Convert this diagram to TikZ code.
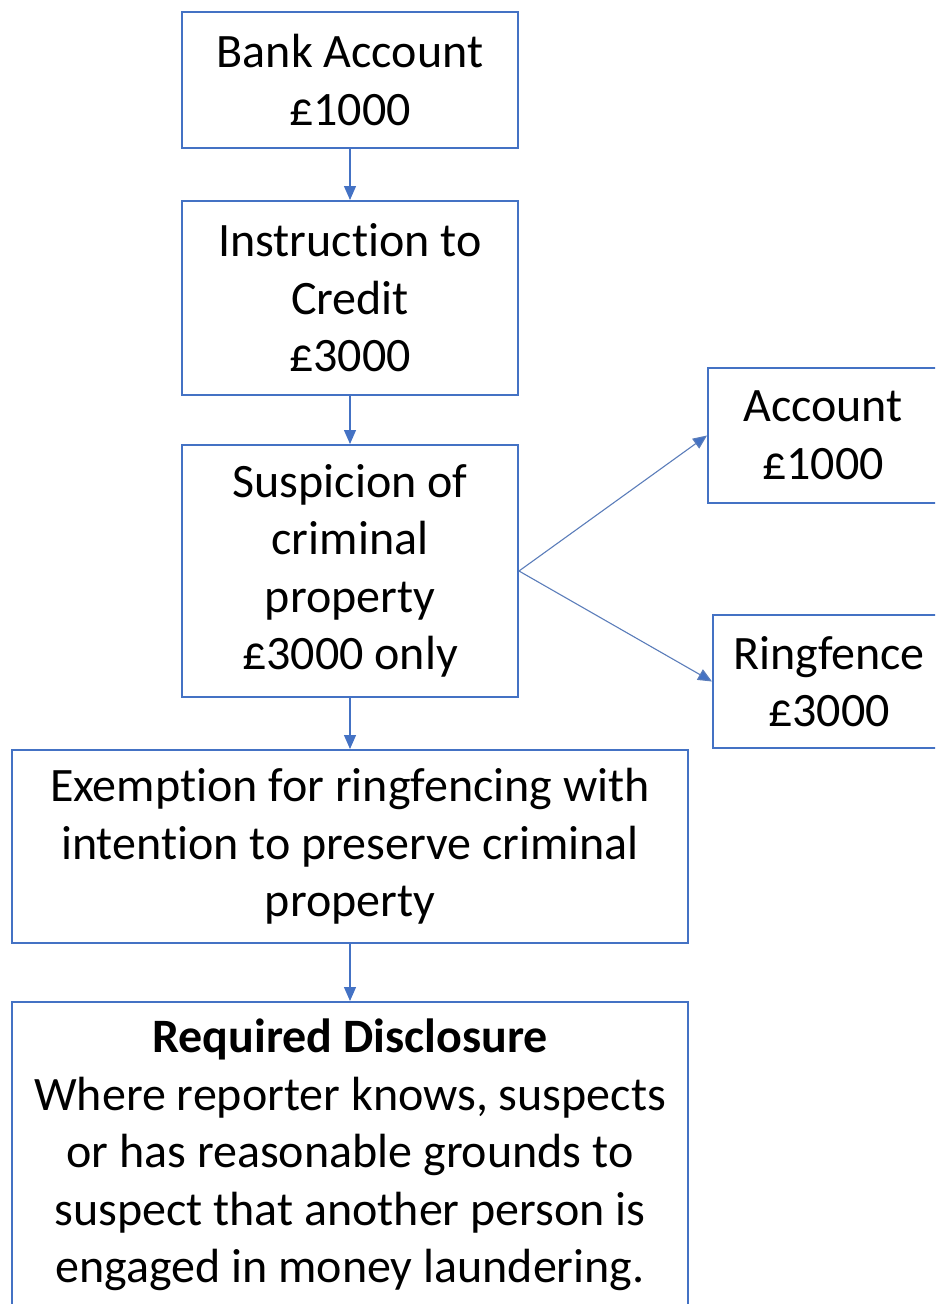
\documentclass[tikz,border=0pt]{standalone}
\usepackage{fontspec}
\setmainfont[Ligatures=NoCommon]{Carlito}
\usetikzlibrary{arrows.meta}
\definecolor{boxblue}{HTML}{4472C4}
\definecolor{linkblue}{HTML}{5B7DBA}
\begin{document}
\begin{tikzpicture}[x=1pt,y=-1pt,
  flowbox/.style={draw=boxblue, line width=2pt, fill=white, inner sep=0pt,
    align=center, font=\fontsize{48}{57.5}\selectfont, text=black},
  flowarrow/.style={draw=boxblue, line width=1.3pt,
    -{Triangle[length=14pt,width=12pt]}},
  branch/.style={draw=linkblue, line width=1.1pt,
    -{Triangle[length=14pt,width=12pt,fill=boxblue]}}]
\path[use as bounding box, clip] (0,0) rectangle (935,1304);

\node[flowbox, minimum width=336pt, minimum height=136pt] (bank) at (350,80)
  {Bank Account\\£1000};
\node[flowbox, minimum width=336pt, minimum height=194pt] (instr) at (350,298)
  {Instruction to\\Credit\\£3000};
\node[flowbox, minimum width=336pt, minimum height=252pt] (susp) at (350,571)
  {Suspicion of\\criminal\\property\\£3000 only};
\node[flowbox, minimum width=230pt, minimum height=135pt] (acct) at (823,435.5)
  {Account\\£1000};
\node[flowbox, minimum width=232pt, minimum height=133pt] (ring) at (829,681.5)
  {Ringfence\\£3000};
\node[flowbox, minimum width=676pt, minimum height=193pt] (exempt) at (350,846.5)
  {Exemption for ringfencing with\\intention to preserve criminal\\property};
\node[flowbox, minimum width=676pt, minimum height=306pt] (disc) at (350,1155)
  {\textbf{Required Disclosure}\\Where reporter knows, suspects\\or has reasonable grounds to\\suspect that another person is\\engaged in money laundering.};

\draw[flowarrow] (bank.south) -- (instr.north);
\draw[flowarrow] (instr.south) -- (susp.north);
\draw[flowarrow] (susp.south) -- (exempt.north);
\draw[flowarrow] (exempt.south) -- (disc.north);
\draw[branch] (susp.east) -- (acct.west);
\draw[branch] (susp.east) -- (ring.west);
\end{tikzpicture}
\end{document}
